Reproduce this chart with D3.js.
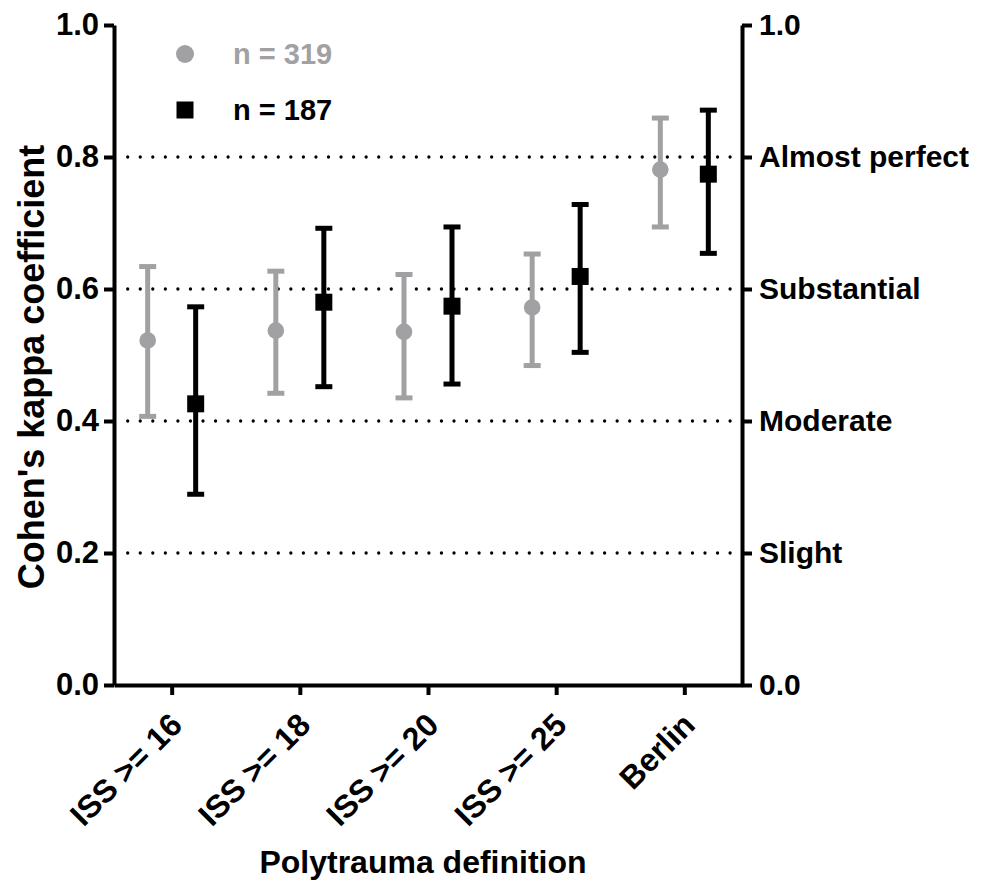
<!DOCTYPE html>
<html>
<head>
<meta charset="utf-8">
<title>Cohen's kappa by polytrauma definition</title>
<script src="https://cdn.jsdelivr.net/npm/d3@7"></script>
<style>
  body { margin: 0; background: #fff; }
  text { font-family: "Liberation Sans", Arial, sans-serif; font-weight: bold; }
</style>
</head>
<body>
<div id="chart"></div>
<script>

/* data */
var categories = ["ISS >= 16", "ISS >= 18", "ISS >= 20", "ISS >= 25", "Berlin"];

var kappa319 = [0.522, 0.537, 0.535, 0.572, 0.781];
var low319   = [0.407, 0.442, 0.435, 0.484, 0.694];
var high319  = [0.634, 0.627, 0.622, 0.653, 0.859];

var kappa187 = [0.426, 0.580, 0.574, 0.619, 0.774];
var low187   = [0.289, 0.452, 0.456, 0.504, 0.654];
var high187  = [0.573, 0.692, 0.694, 0.728, 0.871];

var leftTicks  = [0, 0.2, 0.4, 0.6, 0.8, 1.0];
var rightTicks = [0, 0.2, 0.4, 0.6, 0.8, 1.0];
var rightLabels = ["0.0", "Slight", "Moderate", "Substantial", "Almost perfect", "1.0"];
var gridValues = [0.2, 0.4, 0.6, 0.8];

var seriesNames = ["n = 319", "n = 187"];

/* layout */
var width = 989, height = 884;
var margin = {top: 25, right: 247, bottom: 199, left: 114};
var innerW = width - margin.left - margin.right,
    innerH = height - margin.top - margin.bottom;

var grey = "#a1a1a4", black = "#000";

var svg = d3.select("#chart").append("svg")
    .attr("width", width)
    .attr("height", height);

var g = svg.append("g")
    .attr("transform", "translate(" + margin.left + "," + margin.top + ")");

var x = d3.scalePoint().domain(categories).range([0, innerW]).padding(0.45);
var y = d3.scaleLinear().domain([0, 1]).range([innerH, 0]);

var offset = 24;

/* dotted reference lines */
g.selectAll(".grid").data(gridValues).enter().append("line")
    .attr("class", "grid")
    .attr("x1", 13.7).attr("x2", innerW - 3)
    .attr("y1", function(d) { return y(d); })
    .attr("y2", function(d) { return y(d); })
    .attr("stroke", "#000")
    .attr("stroke-width", 3.3)
    .attr("stroke-linecap", "round")
    .attr("stroke-dasharray", "0,12.55");

/* axes */
function styleAxis(sel) {
  sel.select(".domain").attr("stroke-width", 4);
  sel.selectAll(".tick line").attr("stroke-width", 4);
  sel.selectAll(".tick text").attr("font-size", 30).attr("fill", "#000");
}

var leftAxis = g.append("g")
    .call(d3.axisLeft(y).tickValues(leftTicks).tickFormat(d3.format(".1f"))
      .tickSize(10).tickSizeOuter(0).tickPadding(5))
    .call(styleAxis);
leftAxis.selectAll(".tick text").attr("font-size", 31);

var rightAxis = g.append("g")
    .attr("transform", "translate(" + innerW + ",0)")
    .call(d3.axisRight(y).tickValues(rightTicks)
      .tickFormat(function(d, i) { return rightLabels[i]; })
      .tickSize(10).tickSizeOuter(0).tickPadding(7))
    .call(styleAxis);

var bottomAxis = g.append("g")
    .attr("transform", "translate(0," + innerH + ")")
    .call(d3.axisBottom(x).tickSize(10).tickSizeOuter(0))
    .call(styleAxis);

bottomAxis.selectAll(".tick text")
    .attr("text-anchor", "end")
    .attr("dy", null)
    .attr("y", null)
    .attr("font-size", 32)
    .attr("transform", "translate(12,42) rotate(-45)");

/* error bars and markers */
function drawSeries(vals, lows, highs, color, dx, shape) {
  var s = g.append("g");
  var data = categories.map(function(c, i) {
    return {c: c, v: vals[i], lo: lows[i], hi: highs[i]};
  });
  var cap = 8.5;
  s.selectAll(".bar").data(data).enter().append("line")
      .attr("x1", function(d) { return x(d.c) + dx; })
      .attr("x2", function(d) { return x(d.c) + dx; })
      .attr("y1", function(d) { return y(d.lo); })
      .attr("y2", function(d) { return y(d.hi); })
      .attr("stroke", color).attr("stroke-width", 5);
  ["lo", "hi"].forEach(function(k) {
    s.selectAll(".cap-" + k).data(data).enter().append("line")
        .attr("x1", function(d) { return x(d.c) + dx - cap; })
        .attr("x2", function(d) { return x(d.c) + dx + cap; })
        .attr("y1", function(d) { return y(d[k]); })
        .attr("y2", function(d) { return y(d[k]); })
        .attr("stroke", color).attr("stroke-width", 5);
  });
  var sym = d3.symbol().type(shape === "circle" ? d3.symbolCircle : d3.symbolSquare)
      .size(shape === "circle" ? Math.PI * 8.3 * 8.3 : 17 * 17);
  s.selectAll(".pt").data(data).enter().append("path")
      .attr("d", sym)
      .attr("transform", function(d) { return "translate(" + (x(d.c) + dx) + "," + y(d.v) + ")"; })
      .attr("fill", color);
}

drawSeries(kappa319, low319, high319, grey, -offset, "circle");
drawSeries(kappa187, low187, high187, black, offset, "square");

/* legend */
var legend = svg.append("g");
legend.append("path")
    .attr("d", d3.symbol().type(d3.symbolCircle).size(Math.PI * 9 * 9))
    .attr("transform", "translate(185,54)")
    .attr("fill", grey);
legend.append("text").attr("x", 233).attr("y", 64)
    .attr("font-size", 29).attr("fill", grey).text(seriesNames[0]);
legend.append("path")
    .attr("d", d3.symbol().type(d3.symbolSquare).size(17 * 17))
    .attr("transform", "translate(185,110)")
    .attr("fill", black);
legend.append("text").attr("x", 233).attr("y", 120)
    .attr("font-size", 29).attr("fill", black).text(seriesNames[1]);

/* axis titles */
svg.append("text")
    .attr("transform", "translate(44," + (margin.top + innerH / 2 + 12) + ") rotate(-90)")
    .attr("text-anchor", "middle")
    .attr("font-size", 36)
    .text("Cohen's kappa coefficient");

svg.append("text")
    .attr("x", margin.left + innerW / 2 - 5)
    .attr("y", 873)
    .attr("text-anchor", "middle")
    .attr("font-size", 32)
    .text("Polytrauma definition");

</script>
</body>
</html>
